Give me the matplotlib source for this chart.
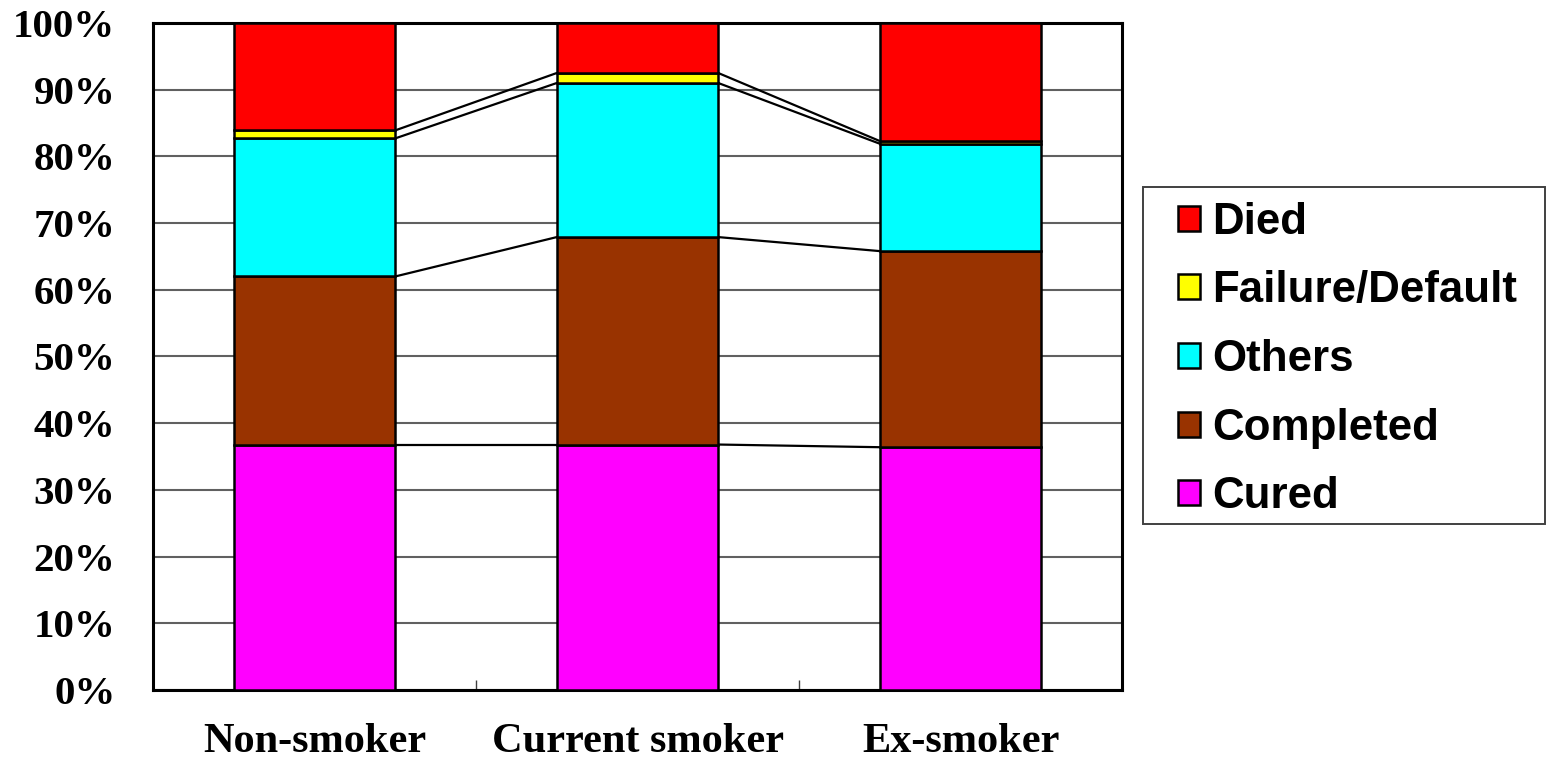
import numpy as np
import matplotlib.pyplot as plt
from matplotlib.patches import Patch, Rectangle

groups = ['Non-smoker', 'Current smoker', 'Ex-smoker']
cured = [36.8, 36.8, 36.4]
completed = [25.2, 31.1, 29.4]
others = [20.7, 23.1, 16.1]
failure = [1.2, 1.5, 0.4]
died = [16.1, 7.5, 17.7]

series = [('Cured', cured, '#FF00FF'),
          ('Completed', completed, '#993300'),
          ('Others', others, '#00FFFF'),
          ('Failure/Default', failure, '#FFFF00'),
          ('Died', died, '#FF0000')]

fig = plt.figure(figsize=(15.5, 7.61), dpi=100)
ax = fig.add_axes([0.0987, 0.0933, 0.6252, 0.8765])

x = np.arange(len(groups))
width = 0.5
bottom = np.zeros(len(groups))
for name, vals, color in series:
    vals = np.array(vals)
    ax.bar(x, vals, width, bottom=bottom, color=color, edgecolor='black',
           linewidth=1.8, label=name, zorder=3)
    bottom = bottom + vals
    # series lines between neighbouring bars
    for i in range(len(groups) - 1):
        ax.plot([x[i] + width / 2, x[i + 1] - width / 2],
                [bottom[i], bottom[i + 1]], color='black', lw=1.6, zorder=2)

ax.set_xlim(-0.5, len(groups) - 0.5)
ax.set_ylim(0, 100)
ax.set_yticks(np.arange(0, 101, 10))
ax.set_yticklabels([f'{v}%' for v in range(0, 101, 10)])
ax.set_xticks(x)
ax.set_xticklabels(groups)
ax.set_xticks(x[:-1] + 0.5, minor=True)
ax.yaxis.grid(True, color='#606060', lw=1.5, zorder=0)
ax.set_axisbelow(True)

for lab in ax.get_yticklabels():
    lab.set_fontproperties('Liberation Serif')
    lab.set_fontweight('bold')
    lab.set_fontsize(29.5)
for lab in ax.get_xticklabels():
    lab.set_fontproperties('Liberation Serif')
    lab.set_fontweight('bold')
    lab.set_fontsize(30.5)
ax.tick_params(axis='y', length=0, pad=27)
ax.tick_params(axis='x', which='major', length=0, pad=24)
ax.tick_params(axis='x', which='minor', direction='in', length=7, width=1, color='#404040')
for sp in ax.spines.values():
    sp.set_linewidth(2.2)
    sp.set_color('black')

# legend box drawn separately so the padding can differ per side
fig.patches.append(Rectangle((0.7374, 0.3114), 0.2594, 0.4428, transform=fig.transFigure,
                             facecolor='white', edgecolor='#404040', lw=1.4, zorder=0))
handles = [Patch(facecolor=c, edgecolor='black', linewidth=1.8, label=n)
           for n, _, c in series[::-1]]
leg = fig.legend(handles=handles, loc='upper left', bbox_to_anchor=(0.760, 0.7350),
                 prop=dict(family='Liberation Sans', weight='bold', size=31.6),
                 frameon=False, handlelength=0.5, handleheight=0.5, handletextpad=0.27,
                 labelspacing=0.63, borderpad=0, borderaxespad=0)

fig.savefig('out.png', dpi=100)
